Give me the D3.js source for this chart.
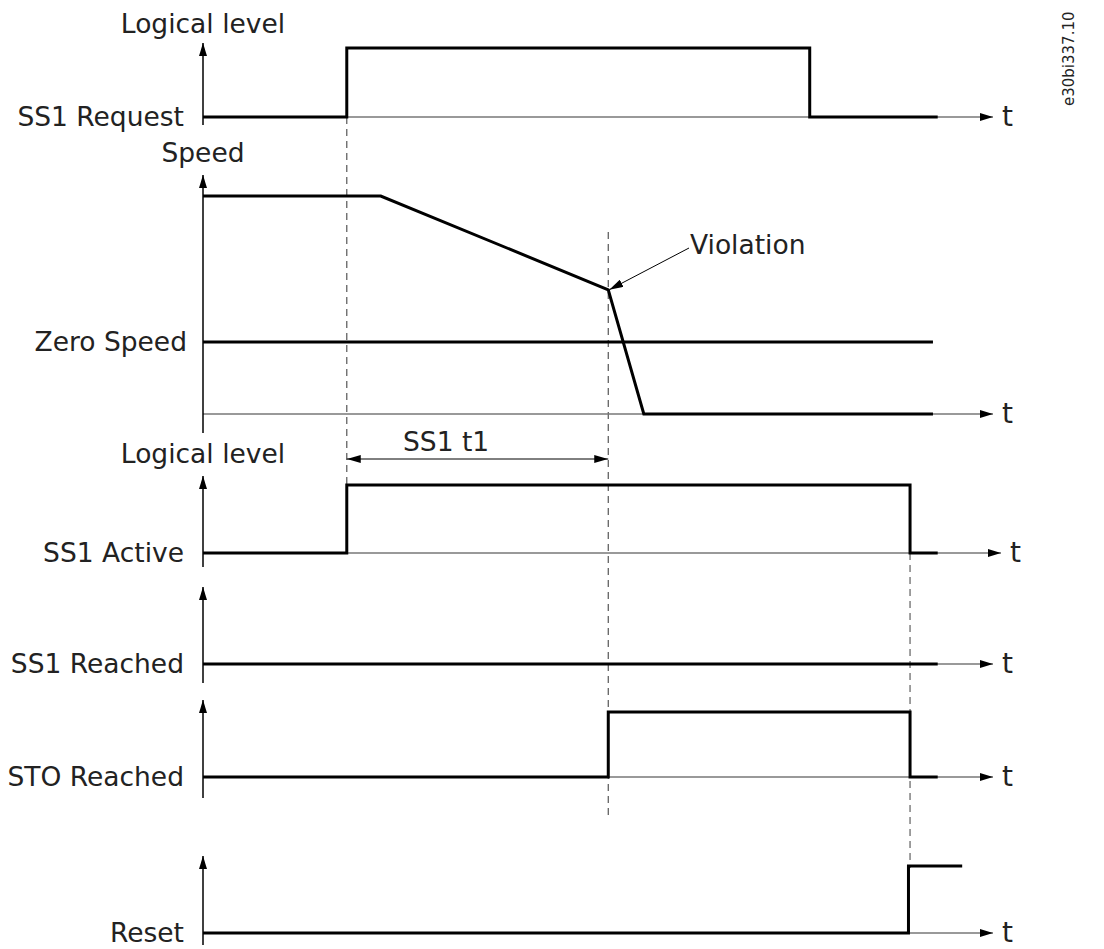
<!DOCTYPE html>
<html>
<head>
<meta charset="utf-8">
<script src="https://cdn.jsdelivr.net/npm/d3@7"></script>
<style>
  body { margin: 0; background: #fff; }
  text { font-family: "DejaVu Sans", Verdana, sans-serif; fill: #222; }
</style>
</head>
<body>
<div id="chart"></div>
<script>
// time in arbitrary units 0..100
const tRequest = 18.2, tRamp = 22.5, tViolation = 51.3, tStopped = 55.8, tRelease = 76.8, tStoOff = 89.5, tReset = 89.3;

const ss1Request = [[0, 0], [tRequest, 0], [tRequest, 1], [tRelease, 1], [tRelease, 0], [93, 0]];
const speed = [[0, 100], [tRamp, 100], [tViolation, 57], [tStopped, 0], [92.4, 0]];
const zeroSpeedLevel = 33;
const zeroSpeedLine = [[0, zeroSpeedLevel], [92.4, zeroSpeedLevel]];
const ss1Active = [[0, 0], [tRequest, 0], [tRequest, 1], [tStoOff, 1], [tStoOff, 0], [93, 0]];
const ss1Reached = [[0, 0], [93, 0]];
const stoReached = [[0, 0], [tViolation, 0], [tViolation, 1], [tStoOff, 1], [tStoOff, 0], [93, 0]];
const reset = [[0, 0], [tReset, 0], [tReset, 1], [96.1, 1]];

const panelLabels = ["SS1 Request", "Speed", "SS1 Active", "SS1 Reached", "STO Reached", "Reset"];
const guideTimes = [tRequest, tViolation, tStoOff];

const width = 1104, height = 949;
const fs = 26.5;
const svg = d3.select("#chart").append("svg")
    .attr("width", width)
    .attr("height", height);

const x = d3.scaleLinear().domain([0, 100]).range([203, 993]);

// arrowheads
const defs = svg.append("defs");
function marker(id, w, h) {
    defs.append("marker")
        .attr("id", id)
        .attr("markerUnits", "userSpaceOnUse")
        .attr("viewBox", `0 0 ${w} ${h}`)
        .attr("refX", w).attr("refY", h / 2)
        .attr("markerWidth", w).attr("markerHeight", h)
        .attr("orient", "auto-start-reverse")
        .append("path")
        .attr("d", `M0,0L${w},${h / 2}L0,${h}Z`)
        .attr("fill", "#000");
}
marker("ax", 13, 8);
marker("ann", 14, 8);

// panel layout: baseline, top level, axis arrow tip, axis bottom
const panels = [
    { label: panelLabels[0], data: ss1Request, base: 117, high: 48, top: 43, bottom: 125, tEnd: 993 },
    { label: panelLabels[1], data: speed, base: 414, high: 196, top: 175, bottom: 433, tEnd: 993, speed: true },
    { label: panelLabels[2], data: ss1Active, base: 553, high: 485, top: 476, bottom: 567, tEnd: 1001 },
    { label: panelLabels[3], data: ss1Reached, base: 664, high: 600, top: 587, bottom: 683, tEnd: 993 },
    { label: panelLabels[4], data: stoReached, base: 777, high: 712, top: 700, bottom: 798, tEnd: 993 },
    { label: panelLabels[5], data: reset, base: 933, high: 866, top: 856, bottom: 945, tEnd: 993 }
];

// dashed guides
const guideSpans = [[117, 553], [232, 817], [553, 868]];
guideTimes.forEach((t, i) => {
    svg.append("line")
        .attr("x1", x(t)).attr("x2", x(t))
        .attr("y1", guideSpans[i][0]).attr("y2", guideSpans[i][1])
        .attr("stroke", i === 2 ? "#888" : "#555")
        .attr("stroke-width", i === 2 ? 1.6 : 1.2)
        .attr("stroke-dasharray", "7,5");
});

panels.forEach(p => {
    const y = p.speed
        ? d3.scaleLinear().domain([0, 100]).range([p.base, p.high])
        : d3.scaleLinear().domain([0, 1]).range([p.base, p.high]);
    p.y = y;

    // time axis
    svg.append("line")
        .attr("x1", x(0)).attr("x2", p.tEnd)
        .attr("y1", p.base).attr("y2", p.base)
        .attr("stroke", "#777").attr("stroke-width", 1.5)
        .attr("marker-end", "url(#ax)");
    svg.append("text")
        .attr("x", p.tEnd + 9).attr("y", p.base + 9)
        .attr("font-size", 28)
        .text("t");

    // vertical axis
    svg.append("line")
        .attr("x1", x(0)).attr("x2", x(0))
        .attr("y1", p.bottom).attr("y2", p.top)
        .attr("stroke", "#000").attr("stroke-width", 1.5)
        .attr("marker-end", "url(#ax)");

    const line = d3.line().x(d => x(d[0])).y(d => y(d[1]));
    svg.append("path")
        .datum(p.data)
        .attr("d", line)
        .attr("fill", "none")
        .attr("stroke", "#000")
        .attr("stroke-width", 3)
        .attr("stroke-linejoin", "miter");

    if (p.speed) {
        svg.append("path")
            .datum(zeroSpeedLine)
            .attr("d", line)
            .attr("fill", "none")
            .attr("stroke", "#000")
            .attr("stroke-width", 3);
        svg.append("text")
            .attr("x", 187).attr("y", y(zeroSpeedLevel) + 9)
            .attr("text-anchor", "end")
            .attr("font-size", fs)
            .text("Zero Speed");
    } else {
        svg.append("text")
            .attr("x", 184).attr("y", p.base + 9)
            .attr("text-anchor", "end")
            .attr("font-size", fs)
            .text(p.label);
    }
});

// axis titles
[["Logical level", 33], ["Speed", 162], ["Logical level", 463]].forEach(d => {
    svg.append("text")
        .attr("x", x(0)).attr("y", d[1])
        .attr("text-anchor", "middle")
        .attr("font-size", fs)
        .text(d[0]);
});

// violation annotation
const vp = panels[1];
const violationPt = speed[2];
svg.append("line")
    .attr("x1", 689).attr("y1", 248)
    .attr("x2", x(violationPt[0]) + 1).attr("y2", vp.y(violationPt[1]))
    .attr("stroke", "#000").attr("stroke-width", 1)
    .attr("marker-end", "url(#ann)");
svg.append("text")
    .attr("x", 690).attr("y", 254)
    .attr("font-size", fs)
    .text("Violation");

// SS1 t1 span
svg.append("line")
    .attr("x1", x(tRequest)).attr("x2", x(tViolation))
    .attr("y1", 459).attr("y2", 459)
    .attr("stroke", "#000").attr("stroke-width", 1)
    .attr("marker-start", "url(#ann)")
    .attr("marker-end", "url(#ann)");
svg.append("text")
    .attr("x", 403).attr("y", 451)
    .attr("font-size", fs)
    .text("SS1 t1");

// document id
svg.append("text")
    .attr("transform", "translate(1074,106) rotate(-90)")
    .attr("font-size", 15)
    .text("e30bi337.10");
</script>
</body>
</html>
